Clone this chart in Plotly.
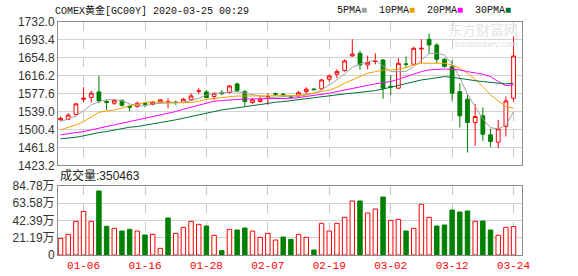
import plotly.graph_objects as go

dates = [
    "2020-01-01", "2020-01-02", "2020-01-03", "2020-01-06", "2020-01-07", "2020-01-08", "2020-01-09", "2020-01-10",
    "2020-01-13", "2020-01-14", "2020-01-15", "2020-01-16", "2020-01-17", "2020-01-20", "2020-01-21", "2020-01-22",
    "2020-01-23", "2020-01-24", "2020-01-27", "2020-01-28", "2020-01-29", "2020-01-30", "2020-01-31", "2020-02-03",
    "2020-02-04", "2020-02-05", "2020-02-06", "2020-02-07", "2020-02-10", "2020-02-11", "2020-02-12", "2020-02-13",
    "2020-02-14", "2020-02-17", "2020-02-18", "2020-02-19", "2020-02-20", "2020-02-21", "2020-02-24", "2020-02-25",
    "2020-02-26", "2020-02-27", "2020-02-28", "2020-03-02", "2020-03-03", "2020-03-04", "2020-03-05", "2020-03-06",
    "2020-03-09", "2020-03-10", "2020-03-11", "2020-03-12", "2020-03-13", "2020-03-16", "2020-03-17", "2020-03-18",
    "2020-03-19", "2020-03-20", "2020-03-23", "2020-03-24",
]

opens = [1521, 1522, 1532, 1565, 1569, 1580.8, 1560, 1556.5, 1563, 1550,
         1549.4, 1556, 1554.4, 1558.7, 1559, 1559, 1558, 1563.7, 1582, 1580.8,
         1570.8, 1579, 1579.4, 1598, 1581.5, 1558, 1560, 1569, 1577, 1576,
         1571, 1572, 1581.5, 1587, 1587.3, 1608, 1618.7, 1626.6, 1658, 1663.7,
         1638.7, 1646, 1649.4, 1593, 1588.7, 1641, 1640.2, 1673, 1693.8, 1681.6,
         1650.9, 1635.1, 1581.5, 1565.1, 1515.1, 1529.4, 1488.6, 1472.9, 1506.5, 1567.2]
highs = [1528, 1535, 1556.5, 1591, 1583, 1615.5, 1563.7, 1566, 1564, 1553,
         1560, 1558, 1561, 1565, 1567, 1562, 1568, 1578, 1588.7, 1585,
         1579, 1585, 1595, 1600.8, 1585, 1567, 1570.8, 1578, 1580, 1578,
         1572, 1583, 1590.8, 1588.7, 1608, 1618.7, 1629.4, 1650.9, 1693.8, 1669.4,
         1658.7, 1663.7, 1651.6, 1617.3, 1653, 1656.6, 1678, 1693.8, 1706.6, 1685.2,
         1653, 1648, 1599.4, 1575.8, 1555.1, 1547.9, 1501.5, 1520.8, 1570.8, 1700.9]
lows = [1519, 1521, 1530.8, 1559, 1558, 1556.5, 1542, 1553, 1549, 1539,
        1547, 1548, 1552, 1556, 1546, 1553, 1556.5, 1560.8, 1576.5, 1567,
        1563.7, 1574, 1578, 1579.4, 1550.8, 1555, 1558, 1553, 1572, 1570.8,
        1568, 1570.8, 1576.5, 1585, 1585, 1603, 1610, 1624.4, 1656.6, 1628,
        1629.4, 1640, 1565.8, 1574.4, 1587.3, 1633, 1638.7, 1642.3, 1663.7, 1642.3,
        1633.7, 1562.2, 1504.3, 1450.7, 1465, 1475.7, 1462.2, 1460, 1485, 1560]
closes = [1524, 1531, 1555, 1567, 1578, 1561.5, 1558, 1563, 1552, 1548,
          1556.5, 1554.5, 1558.7, 1563.7, 1560, 1558, 1565, 1572.2, 1583, 1568.7,
          1578, 1577, 1593.7, 1583.7, 1560, 1563.7, 1565.2, 1571, 1576, 1575,
          1569.5, 1579, 1586.6, 1585.5, 1606.5, 1615, 1624.4, 1647.3, 1662, 1638.7,
          1644.4, 1647, 1588.7, 1591.5, 1642.3, 1640, 1674.4, 1674.4, 1681.6, 1650.9,
          1635.1, 1578, 1529.4, 1515.1, 1527.9, 1490, 1474.3, 1501.5, 1561.5, 1658]

ma5 = [1517, 1523, 1529, 1540, 1553, 1560, 1564, 1564, 1562, 1555,
       1551, 1551, 1555, 1556.5, 1556, 1557, 1558, 1562, 1567, 1574,
       1578, 1578, 1581, 1581.5, 1578, 1574, 1572, 1569, 1569, 1571,
       1571, 1572, 1574, 1578, 1585, 1595.8, 1606.5, 1619.4, 1633.7, 1640.9,
       1645.9, 1649.4, 1636.6, 1624.4, 1624.4, 1625, 1635, 1650, 1663, 1664,
       1660, 1641, 1611, 1576, 1548, 1523, 1504, 1501.5, 1509, 1538]
ma10 = [1499.3, 1504, 1510, 1517, 1526.5, 1537, 1540, 1542, 1546, 1551,
        1554, 1558, 1559.4, 1559.4, 1558.7, 1558, 1558, 1558, 1560.8, 1565,
        1567, 1568.5, 1570.8, 1572, 1572, 1572, 1572, 1572, 1572, 1572,
        1572, 1573, 1575.8, 1578, 1581.5, 1585, 1590.8, 1599.4, 1606.5, 1613.7,
        1620.8, 1624.4, 1628, 1628, 1629.4, 1633, 1638.7, 1642.3, 1642.3, 1642.3,
        1642.3, 1638.7, 1631.5, 1620.8, 1608, 1592.2, 1574.4, 1561.5, 1549.4, 1545.8]
ma20 = [1488.6, 1490.7, 1493.6, 1495.7, 1499.3, 1502.9, 1506.5, 1510, 1513.6, 1516.5,
        1520.8, 1524.3, 1527.9, 1531.5, 1535, 1538.6, 1543.6, 1547.9, 1553, 1557,
        1560.8, 1562.2, 1563.7, 1565, 1565.5, 1565.8, 1566, 1566.3, 1566.7, 1567,
        1567, 1568.7, 1570.8, 1573, 1575.8, 1578, 1581.5, 1585, 1588.7, 1592.2,
        1595.8, 1598, 1600.8, 1603, 1608, 1613.7, 1619.4, 1624.4, 1628, 1629.4,
        1630, 1629.4, 1628, 1624.4, 1622.3, 1618.7, 1613.7, 1603, 1594.4, 1595.8]
ma30 = [1480, 1481.4, 1483.5, 1486.4, 1490.7, 1493.6, 1495.7, 1499.3, 1501.5, 1505,
        1506.5, 1508.6, 1512.2, 1515, 1517.2, 1520.8, 1524.3, 1527.9, 1532, 1535,
        1540, 1542.2, 1544.3, 1547.2, 1549.4, 1551.5, 1553.6, 1556.5, 1558.7, 1560,
        1562.2, 1563.7, 1565.8, 1568.7, 1570.8, 1572.2, 1574.4, 1576.5, 1578, 1579.4,
        1581.5, 1583.7, 1587, 1591, 1595, 1598.5, 1603, 1606.5, 1608.7, 1611.5,
        1613.7, 1612.2, 1609.4, 1606.5, 1605, 1603, 1601.5, 1599.4, 1598, 1599.4]

volumes = [204800, 253900, 413700, 536500, 413700, 786300, 352200, 327600, 294900, 315400,
           294900, 245700, 253900, 81900, 454600, 266200, 339900, 413700, 376800, 356300,
           241600, 53200, 315400, 307200, 331700, 294900, 217100, 266200, 184300, 221200,
           192500, 253900, 217100, 61400, 389100, 294900, 389100, 462800, 663500, 663500,
           516000, 565200, 712600, 425900, 438200, 294900, 327600, 622500, 462800, 356300,
           368600, 552900, 528300, 540600, 413700, 417700, 307200, 241600, 339900, 350463]
vol_up = [1, 1, 1, 1, 1, 0, 0, 1, 0, 0,
          1, 0, 1, 1, 0, 1, 1, 1, 1, 0,
          1, 0, 1, 0, 0, 1, 1, 1, 1, 0,
          0, 1, 1, 0, 1, 1, 1, 1, 1, 0,
          1, 1, 0, 1, 1, 0, 1, 1, 1, 0,
          0, 0, 0, 0, 1, 0, 0, 1, 1, 1]

price_ticks = [1423.2, 1461.8, 1500.4, 1539.0, 1577.6, 1616.2, 1654.8, 1693.4, 1732.0]
vol_ticks = [0, 211950, 423900, 635850, 847800]
vol_tick_labels = ["0", "21.19万", "42.39万", "63.58万", "84.78万"]
date_ticks = ["2020-01-06", "2020-01-16", "2020-01-28", "2020-02-07",
              "2020-02-19", "2020-03-02", "2020-03-12", "2020-03-24"]
date_tick_labels = ["01-06", "01-16", "01-28", "02-07", "02-19", "03-02", "03-12", "03-24"]

title_text = "COMEX黄金[GC00Y] 2020-03-25 00:29"
vol_label = "成交量:350463"

RED = "#ff0000"
GREEN = "#008000"
MONO = "Liberation Mono, Noto Sans CJK SC, monospace"
SANS = "Liberation Sans, Noto Sans CJK SC, sans-serif"

W, H = 578, 276
x0, x1 = 58 / W, 522 / W

fig = go.Figure()

fig.add_trace(go.Candlestick(
    x=dates, open=opens, high=highs, low=lows, close=closes,
    increasing=dict(line=dict(color=RED, width=1), fillcolor="#ffffff"),
    decreasing=dict(line=dict(color=GREEN, width=1), fillcolor=GREEN),
    whiskerwidth=0, xaxis="x", yaxis="y", showlegend=False, hoverinfo="skip",
))

for vals, col in [(ma5, "#a0a0a0"), (ma10, "#f4a000"), (ma20, "#ff00ff"), (ma30, "#006f35")]:
    fig.add_trace(go.Scatter(x=dates, y=vals, mode="lines", line=dict(color=col, width=1),
                             xaxis="x", yaxis="y", showlegend=False, hoverinfo="skip"))

fig.add_trace(go.Bar(
    x=dates, y=volumes, width=0.58,
    marker=dict(color=["#ffffff" if u else GREEN for u in vol_up],
                line=dict(color=[RED if u else GREEN for u in vol_up], width=1)),
    xaxis="x2", yaxis="y2", showlegend=False, hoverinfo="skip",
))

common_x = dict(
    type="category", range=[-0.33, 60.1], tickvals=date_ticks, ticktext=date_tick_labels,
    showgrid=True, gridcolor="#c8c8c8", griddash="dash", gridwidth=1,
    showline=True, mirror=True, linecolor="#8c8c8c", linewidth=1,
    zeroline=False, ticks="", fixedrange=True, domain=[x0, x1], automargin=False,
)
fig.update_layout(
    width=W, height=H, autosize=False,
    margin=dict(l=0, r=0, t=0, b=0, pad=0),
    paper_bgcolor="#ffffff", plot_bgcolor="#ffffff",
    bargap=0, barmode="overlay", hovermode=False,
    xaxis=dict(common_x, anchor="y", showticklabels=False, rangeslider=dict(visible=False)),
    xaxis2=dict(common_x, anchor="y2", showticklabels=True,
                tickfont=dict(family=MONO, size=11, color=RED)),
    yaxis=dict(domain=[1 - 165.3 / H, 1 - 21.5 / H], range=[1423.2, 1732.0],
               tickvals=price_ticks, ticktext=[f"{v:.1f}" for v in price_ticks],
               showgrid=True, gridcolor="#d2d2d2", gridwidth=1, automargin=False, fixedrange=True,
               showline=True, mirror=True, linecolor="#8c8c8c", zeroline=False, ticks="",
               tickfont=dict(family=SANS, size=12, color="#333333")),
    yaxis2=dict(domain=[1 - 255 / H, 1 - 186 / H], range=[0, 847800],
                tickvals=vol_ticks, ticktext=vol_tick_labels, automargin=False, fixedrange=True,
                showgrid=True, gridcolor="#d2d2d2", gridwidth=1,
                showline=True, mirror=True, linecolor="#8c8c8c", zeroline=False, ticks="",
                tickfont=dict(family=SANS, size=12, color="#333333")),
    showlegend=False,
)

legend_html = ("5PMA<span style='color:#a0a0a0'>■</span>  10PMA<span style='color:#f4a000'>■</span>  "
               "20PMA<span style='color:#ff00ff'>■</span>  30PMA<span style='color:#006f35'>■</span>")

fig.add_annotation(x=53 / W, y=1 - 10 / H, xref="paper", yref="paper", xanchor="left", yanchor="middle",
                   text=title_text, showarrow=False, font=dict(family=MONO, size=10, color="#111111"))
fig.add_annotation(x=513 / W, y=1 - 10 / H, xref="paper", yref="paper", xanchor="right", yanchor="middle",
                   text=legend_html, showarrow=False, font=dict(family=MONO, size=10, color="#111111"))
fig.add_annotation(x=x0, y=1 - 176 / H, xref="paper", yref="paper", xanchor="left", yanchor="middle",
                   text=vol_label, showarrow=False, font=dict(family=SANS, size=12, color="#222222"))
fig.add_annotation(x=520 / W, y=1 - 30 / H, xref="paper", yref="paper", xanchor="right", yanchor="middle",
                   text="东方财富网", showarrow=False, font=dict(family=SANS, size=14, color="#e4e4e4"))
fig.add_annotation(x=520 / W, y=1 - 44 / H, xref="paper", yref="paper", xanchor="right", yanchor="middle",
                   text="eastmoney.com", showarrow=False, font=dict(family=SANS, size=9, color="#e4e4e4"))

fig.write_html("out.html", config={"displayModeBar": False, "staticPlot": True},
               post_script="document.body.style.margin='0';document.body.style.overflow='hidden';")
